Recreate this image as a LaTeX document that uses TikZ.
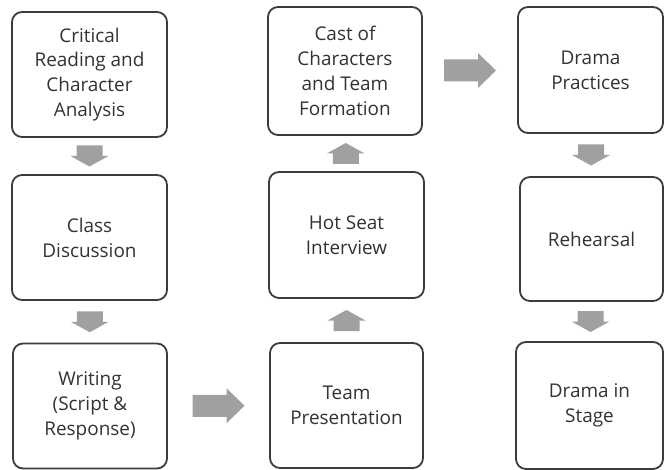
\documentclass[tikz,border=0pt]{standalone}
\usepackage{fontspec}
\setmainfont{Open Sans}
\usetikzlibrary{calc}
\definecolor{boxline}{RGB}{60,60,60}
\definecolor{boxtext}{RGB}{50,50,50}
\definecolor{arrowgray}{RGB}{160,160,160}
\begin{document}
\begin{tikzpicture}[
    x=1bp,y=-1bp,
    stage/.style={draw=boxline, line width=1.8bp, rounded corners=10bp,
      align=center, text=boxtext, inner sep=0pt,
      font=\fontsize{19}{25}\selectfont, minimum height=125bp},
    downarrow/.pic={\fill[arrowgray] (-13,-10.5) -- (13,-10.5) -- (13,0) -- (19,0)
      -- (0,10.5) -- (-19,0) -- (-13,0) -- cycle;},
    uparrow/.pic={\fill[arrowgray] (-13,10.5) -- (13,10.5) -- (13,0) -- (19,0)
      -- (0,-10.5) -- (-19,0) -- (-13,0) -- cycle;},
    rightarrow/.pic={\fill[arrowgray] (-26,-11) -- (8,-11) -- (8,-17.5) -- (26,0)
      -- (8,17.5) -- (8,11) -- (-26,11) -- cycle;}
    ]
    \useasboundingbox (0,0) rectangle (664,470);
    % first column
    \node[stage, minimum width=155bp] (crit) at (89.5,74.5) {Critical\\Reading and\\Character\\Analysis};
    \node[stage, minimum width=155bp] (class) at (89.5,237.5) {Class\\Discussion};
    \node[stage, minimum width=154bp] (writ) at (90,406) {Writing\\(Script \&\\Response)};
    % second column
    \node[stage, minimum width=154bp, minimum height=128bp] (cast) at (345,71) {Cast of\\Characters\\and Team\\Formation};
    \node[stage, minimum width=155bp, minimum height=126bp] (hot) at (346.5,235) {Hot Seat\\Interview};
    \node[stage, minimum width=153bp] (team) at (346.5,405.5) {Team\\Presentation};
    % third column
    \node[stage, minimum width=145bp, minimum height=126bp] (prac) at (590.5,70) {Drama\\Practices};
    \node[stage, minimum width=143bp, minimum height=124bp] (reh) at (591.5,239) {Rehearsal};
    \node[stage, minimum width=147bp, minimum height=127bp] (show) at (589.5,405.5) {Drama in\\Stage};
    % block arrows
    \pic at ($(crit.south)!0.5!(class.north)$) {downarrow};
    \pic at ($(class.south)!0.5!(writ.north)$) {downarrow};
    \pic at ($(writ.east)!0.5!(team.west)$) {rightarrow};
    \pic at ($(team.north)!0.5!(hot.south)$) {uparrow};
    \pic at ($(hot.north)!0.5!(cast.south)$) {uparrow};
    \pic at ($(cast.east)!0.5!(prac.west)$) {rightarrow};
    \pic at ($(prac.south)!0.5!(reh.north)$) {downarrow};
    \pic at ($(reh.south)!0.5!(show.north)$) {downarrow};
\end{tikzpicture}
\end{document}
